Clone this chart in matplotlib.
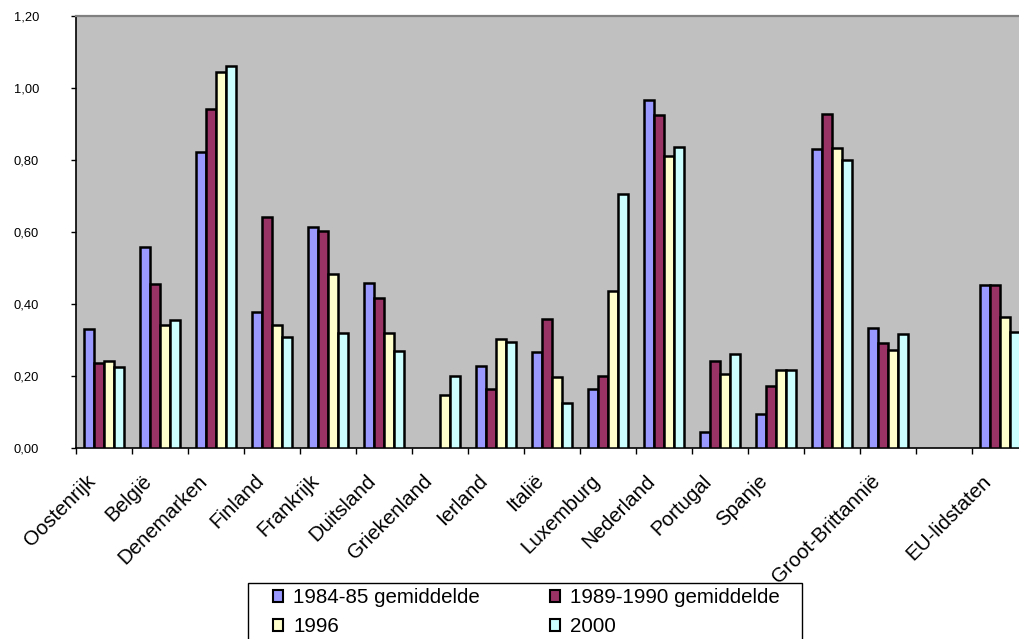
import numpy as np
import matplotlib
matplotlib.use("Agg")
import matplotlib.pyplot as plt
from matplotlib.patches import Patch, Rectangle
from matplotlib.transforms import ScaledTranslation, blended_transform_factory

plt.rcParams['font.family'] = ['Liberation Sans', 'DejaVu Sans']

categories = ["Oostenrijk", "België", "Denemarken", "Finland", "Frankrijk", "Duitsland",
              "Griekenland", "Ierland", "Italië", "Luxemburg", "Nederland", "Portugal",
              "Spanje", "", "Groot-Brittannië", "", "EU-lidstaten"]

nan = np.nan
s1984 = [0.330, 0.560, 0.823, 0.378, 0.615, 0.458, nan, 0.228, 0.268, 0.165, 0.967, 0.045,
         0.094, 0.832, 0.333, nan, 0.452]
s1989 = [0.238, 0.456, 0.941, 0.642, 0.602, 0.416, nan, 0.164, 0.360, 0.202, 0.925, 0.241,
         0.174, 0.929, 0.291, nan, 0.452]
s1996 = [0.242, 0.342, 1.044, 0.341, 0.484, 0.319, 0.148, 0.304, 0.199, 0.437, 0.812, 0.205,
         0.217, 0.834, 0.273, nan, 0.365]
s2000 = [0.227, 0.356, 1.060, 0.310, 0.319, 0.270, 0.202, 0.295, 0.127, 0.705, 0.836, 0.261,
         0.216, 0.800, 0.318, nan, 0.322]

series_names = ["1984-85 gemiddelde", "1989-1990 gemiddelde", "1996", "2000"]
series = [s1984, s1989, s1996, s2000]
colors = ["#9999FF", "#993366", "#FFFFCC", "#CCFFFF"]

yticks = [0.0, 0.2, 0.4, 0.6, 0.8, 1.0, 1.2]

W, H = 1019, 639
fig = plt.figure(figsize=(W / 100, H / 100), dpi=100)
left, right, bottom, top = 76, 1028, 448.3, 16
ax = fig.add_axes([left / W, 1 - bottom / H, (right - left) / W, (bottom - top) / H])
ax.set_facecolor("#C0C0C0")

n = len(categories)
x = np.arange(n)
w = 1 / 5.5
for i, (vals, col, name) in enumerate(zip(series, colors, series_names)):
    v = np.array(vals, dtype=float)
    m = ~np.isnan(v)
    ax.bar(x[m] + (i - 1.5) * w, v[m], width=w, color=col, edgecolor="black",
           linewidth=1.8, label=name, zorder=3)

ax.set_xlim(-0.5, n - 0.5)
ax.set_ylim(0, 1.2)
ax.set_yticks(yticks)
ax.set_yticklabels([f"{t:.2f}".replace(".", ",") for t in yticks], fontsize=9.3)
ax.tick_params(axis="y", direction="out", length=3.6, width=1, pad=23, colors="black")

ax.set_xticks(np.arange(n + 1) - 0.5)
ax.set_xticklabels([])
ax.tick_params(axis="x", direction="out", length=4.3, width=1, colors="black")

for sp in ["left", "bottom"]:
    ax.spines[sp].set_color("black")
    ax.spines[sp].set_linewidth(1.2)
ax.spines["top"].set_color("#808080")
ax.spines["top"].set_linewidth(1.6)
ax.spines["right"].set_visible(False)

trans = blended_transform_factory(ax.transData, ax.transAxes) + \
    ScaledTranslation(-18 / 100, -23 / 100, fig.dpi_scale_trans)
for xi, lab in zip(x, categories):
    if lab:
        ax.text(xi, 0, lab, transform=trans, rotation=45, rotation_mode="anchor",
                ha="right", va="top", fontsize=14.8)

# legend frame (extends below the picture edge, as in the reference)
fig.add_artist(Rectangle((248 / W, 1 - 660 / H), (802 - 248) / W, (660 - 583) / H,
                         transform=fig.transFigure, facecolor="white",
                         edgecolor="black", linewidth=1.0, zorder=1))

handles = [Patch(facecolor=c, edgecolor="black", linewidth=1.5) for c in colors]
order = [0, 2, 1, 3]
leg = fig.legend([handles[k] for k in order], [series_names[k] for k in order],
                 loc="upper left", bbox_to_anchor=(273 / W, 1 - 588 / H), ncol=2,
                 fontsize=14.8, frameon=False,
                 handlelength=0.5, handleheight=0.55, handletextpad=0.48,
                 columnspacing=3.4, labelspacing=0.5, borderpad=0, borderaxespad=0)
leg.set_zorder(2)

fig.savefig("out.png", dpi=100)
